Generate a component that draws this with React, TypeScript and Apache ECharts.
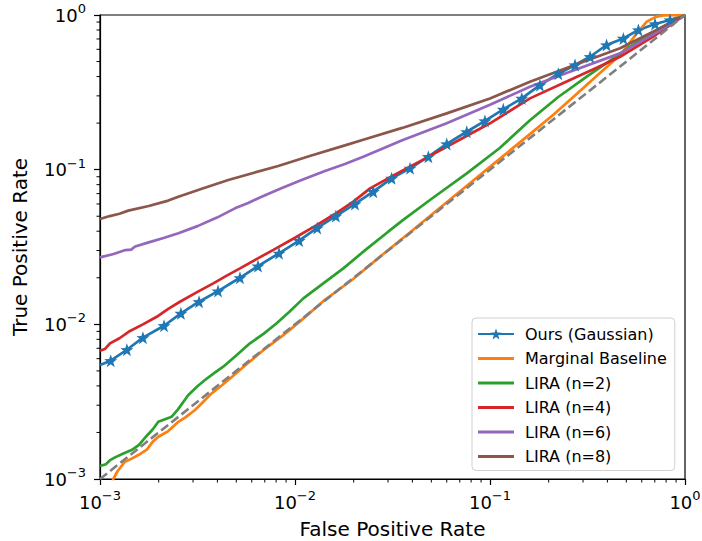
import React, { useEffect, useRef } from 'react';
import * as echarts from 'echarts';

// ---------- data ----------
const oursFpr = [0.001, 0.001135, 0.001374, 0.00166, 0.00213, 0.0026, 0.00322, 0.00403, 0.00522, 0.00646, 0.00828, 0.0105, 0.013, 0.0162, 0.0203, 0.0252, 0.0313, 0.0389, 0.0483, 0.06, 0.076, 0.0942, 0.117, 0.1455, 0.1803, 0.224, 0.273, 0.326, 0.396, 0.483, 0.577, 0.702, 0.838, 1];
const oursTpr = [0.00546, 0.00582, 0.00685, 0.0082, 0.00979, 0.01178, 0.014, 0.01641, 0.02, 0.0238, 0.0288, 0.0348, 0.042, 0.0501, 0.06, 0.0721, 0.0879, 0.1021, 0.1213, 0.1466, 0.1758, 0.2065, 0.2455, 0.289, 0.352, 0.417, 0.475, 0.537, 0.64, 0.706, 0.8, 0.875, 0.929, 1];

const marginalFpr = [0.001135, 0.00117, 0.00123, 0.001343, 0.001445, 0.001574, 0.001738, 0.001862, 0.001991, 0.002239, 0.002523, 0.002754, 0.003069, 0.003388, 0.003741, 0.004074, 0.00455, 0.005623, 0.007079, 0.008913, 0.01122, 0.01413, 0.01995, 0.02818, 0.03981, 0.05623, 0.07943, 0.1122, 0.1585, 0.2113, 0.2818, 0.3811, 0.4645, 0.5649, 0.6368, 0.7079, 0.7745, 0.912, 1];
const marginalTpr = [0.000871, 0.001, 0.001122, 0.001294, 0.001349, 0.001429, 0.001549, 0.001738, 0.001875, 0.002042, 0.002344, 0.002512, 0.002793, 0.003162, 0.003581, 0.00389, 0.004365, 0.005495, 0.006998, 0.00871, 0.01109, 0.01429, 0.01972, 0.02831, 0.04027, 0.05754, 0.08222, 0.1175, 0.1679, 0.2265, 0.3126, 0.4406, 0.5495, 0.7586, 0.9057, 0.9727, 0.9954, 0.998, 1];

const lira2Fpr = [0.001, 0.001072, 0.001122, 0.001194, 0.001318, 0.001452, 0.001585, 0.001738, 0.001862, 0.001991, 0.002188, 0.002333, 0.002512, 0.002838, 0.003162, 0.003451, 0.003802, 0.004285, 0.005012, 0.005875, 0.006918, 0.008054, 0.009333, 0.01104, 0.01413, 0.0177, 0.02291, 0.03006, 0.03589, 0.0492, 0.07603, 0.1122, 0.1603, 0.2239, 0.3133, 0.4074, 0.5224, 0.631, 0.7447, 0.871, 1];
const lira2Tpr = [0.001213, 0.001245, 0.001318, 0.00138, 0.001462, 0.001538, 0.00166, 0.001905, 0.002089, 0.002344, 0.002455, 0.002529, 0.002818, 0.003491, 0.003981, 0.004365, 0.004786, 0.005321, 0.00631, 0.007534, 0.00871, 0.01016, 0.01202, 0.01472, 0.01862, 0.02301, 0.0302, 0.03972, 0.04732, 0.06368, 0.09462, 0.138, 0.2089, 0.2951, 0.399, 0.5012, 0.6237, 0.7244, 0.8204, 0.912, 1];

const lira4Fpr = [0.001, 0.001059, 0.001125, 0.001259, 0.001426, 0.00166, 0.001954, 0.002239, 0.00257, 0.003162, 0.003811, 0.004467, 0.005224, 0.00631, 0.007745, 0.01, 0.01291, 0.01585, 0.01991, 0.02427, 0.03162, 0.04467, 0.05998, 0.1, 0.1603, 0.257, 0.3548, 0.4645, 0.6871, 1];
const lira4Tpr = [0.006745, 0.006918, 0.007534, 0.008128, 0.009057, 0.01, 0.01119, 0.01259, 0.014, 0.01622, 0.01841, 0.02065, 0.02301, 0.0263, 0.03027, 0.03631, 0.04385, 0.05129, 0.06209, 0.07568, 0.0912, 0.1148, 0.1406, 0.1995, 0.2891, 0.3802, 0.4571, 0.537, 0.7244, 1];

const lira6Fpr = [0.001, 0.001175, 0.001349, 0.001445, 0.001514, 0.001778, 0.002138, 0.002523, 0.003162, 0.003981, 0.00492, 0.005754, 0.006745, 0.008511, 0.01081, 0.01413, 0.01803, 0.02239, 0.03548, 0.05998, 0.1, 0.1603, 0.257, 0.4645, 0.7447, 1];
const lira6Tpr = [0.0271, 0.02851, 0.0302, 0.03041, 0.03184, 0.03388, 0.03631, 0.03882, 0.04315, 0.04898, 0.05623, 0.06095, 0.06683, 0.07586, 0.0857, 0.09772, 0.1089, 0.1213, 0.1549, 0.1995, 0.263, 0.3436, 0.4295, 0.5649, 0.7943, 1];

const lira8Fpr = [0.001, 0.001122, 0.001259, 0.001396, 0.001778, 0.002239, 0.002523, 0.003388, 0.00455, 0.006166, 0.008204, 0.01202, 0.01803, 0.02239, 0.03548, 0.05998, 0.1, 0.1603, 0.257, 0.4645, 0.7447, 1];
const lira8Tpr = [0.04797, 0.05012, 0.05188, 0.05433, 0.05821, 0.0631, 0.06683, 0.07586, 0.0857, 0.0955, 0.1057, 0.123, 0.1436, 0.1563, 0.1862, 0.2312, 0.2884, 0.3707, 0.4634, 0.6095, 0.8222, 1];

const chanceFpr = [0.001, 1];
const chanceTpr = [0.001, 1];

const seriesNames = ['Ours (Gaussian)', 'Marginal Baseline', 'LIRA (n=2)', 'LIRA (n=4)', 'LIRA (n=6)', 'LIRA (n=8)'];
const minorTickValues = [0.002, 0.003, 0.004, 0.005, 0.006, 0.007, 0.008, 0.009, 0.02, 0.03, 0.04, 0.05, 0.06, 0.07, 0.08, 0.09, 0.2, 0.3, 0.4, 0.5, 0.6, 0.7, 0.8, 0.9];
const axisMin = 0.001;
const axisMax = 1;

// ---------- helpers ----------
const zip = (xs: number[], ys: number[]) => xs.map((x, i) => [x, ys[i]]);
const fmtPow = (v: number) => {
  const e = Math.round(Math.log10(v));
  const s = e < 0 ? '\u2212' + String(-e) : String(e);
  return '{b|10}{s|' + s + '}';
};
const powRich = {
  b: { fontFamily: 'DejaVu Sans', fontSize: 18, color: '#000' },
  s: { fontFamily: 'DejaVu Sans', fontSize: 13, padding: [0, 0, 13, 0], color: '#000' },
};
const STAR = 'path://M0,-10 L2.35,-3.24 L9.51,-3.09 L3.8,1.24 L5.88,8.09 L0,4 L-5.88,8.09 L-3.8,1.24 L-9.51,-3.09 L-2.35,-3.24 Z';
const LINE_ICON = 'path://M0,0h0.01v0.01h-0.01z M0,5.6h36v2.8h-36z M0,13.99h0.01v0.01h-0.01z';
const FONT = 'DejaVu Sans';
const colors = ['#1f77b4', '#ff7f0e', '#2ca02c', '#d62728', '#9467bd', '#8c564b'];
const LW = 2.7;

export default function App() {
  const ref = useRef<HTMLDivElement>(null);
  useEffect(() => {
    document.body.style.margin = '0';
    const chart = echarts.init(ref.current!, undefined, { renderer: 'svg' });
    const oursData = zip(oursFpr, oursTpr).map((p, i, arr) =>
      i === 0 || i === arr.length - 1 ? { value: p, symbol: 'none' } : { value: p }
    );
    const lineSeries = (name: string, data: number[][], color: string) => ({
      name, type: 'line', data, symbol: 'none', showSymbol: false,
      lineStyle: { color, width: LW }, itemStyle: { color }, z: 2,
    });
    const axisCommon = {
      type: 'log', logBase: 10, min: axisMin, max: axisMax, nameLocation: 'middle',
      nameTextStyle: { fontFamily: FONT, fontSize: 20, color: '#000' },
      axisLine: { show: true, lineStyle: { color: '#000', width: 1.2 } },
      axisTick: { show: true, inside: false, length: 6, lineStyle: { color: '#000', width: 1.2 } },
      splitLine: { show: false },
    };
    chart.setOption({
      animation: false,
      grid: {
        left: 100, right: 17, top: 15, bottom: 62, containLabel: false, outerBoundsMode: 'none',
        show: true, borderColor: '#000', borderWidth: 1.2, backgroundColor: 'transparent',
      },
      xAxis: {
        ...axisCommon, name: 'False Positive Rate', nameGap: 40,
        axisLabel: { formatter: fmtPow, rich: powRich, color: '#000', margin: 10 },
      },
      yAxis: {
        ...axisCommon, name: 'True Positive Rate', nameGap: 70,
        axisLabel: { formatter: fmtPow, rich: powRich, color: '#000', margin: 14 },
      },
      legend: {
        data: seriesNames.map((n, i) => (i === 0 ? { name: n } : { name: n, icon: LINE_ICON })),
        orient: 'vertical', left: 472, top: 318,
        itemWidth: 36, itemHeight: 14, itemGap: 8.5,
        padding: [8, 8, 6, 5],
        borderColor: '#d0d0d0', borderWidth: 1, borderRadius: 4,
        backgroundColor: 'rgba(255,255,255,0.8)',
        textStyle: { fontFamily: FONT, fontSize: 16, color: '#000', padding: [0, 0, 0, 6] },
      },
      series: [
        {
          name: seriesNames[0], type: 'line', data: oursData,
          symbol: STAR, symbolSize: 13, showSymbol: true,
          lineStyle: { color: colors[0], width: LW }, itemStyle: { color: colors[0] }, z: 2,
        },
        lineSeries(seriesNames[1], zip(marginalFpr, marginalTpr), colors[1]),
        lineSeries(seriesNames[2], zip(lira2Fpr, lira2Tpr), colors[2]),
        lineSeries(seriesNames[3], zip(lira4Fpr, lira4Tpr), colors[3]),
        lineSeries(seriesNames[4], zip(lira6Fpr, lira6Tpr), colors[4]),
        lineSeries(seriesNames[5], zip(lira8Fpr, lira8Tpr), colors[5]),
        {
          name: 'chance', type: 'line', data: zip(chanceFpr, chanceTpr), symbol: 'none',
          lineStyle: { color: '#7f7f7f', width: 2.6, type: [9, 4] }, z: 3,
        },
        {
          name: 'xMinor', type: 'custom', clip: false, silent: true, z: 5,
          data: minorTickValues.map((v) => [v, axisMin]),
          renderItem: (params: any, api: any) => {
            const p = api.coord([api.value(0), api.value(1)]);
            return { type: 'line', shape: { x1: p[0], y1: p[1], x2: p[0], y2: p[1] + 3.5 }, style: { stroke: '#000', lineWidth: 1 } };
          },
        },
        {
          name: 'yMinor', type: 'custom', clip: false, silent: true, z: 5,
          data: minorTickValues.map((v) => [axisMin, v]),
          renderItem: (params: any, api: any) => {
            const p = api.coord([api.value(0), api.value(1)]);
            return { type: 'line', shape: { x1: p[0] - 3.5, y1: p[1], x2: p[0], y2: p[1] }, style: { stroke: '#000', lineWidth: 1 } };
          },
        },
      ],
    });
    return () => chart.dispose();
  }, []);
  return <div ref={ref} style={{ width: 702, height: 541 }} />;
}
